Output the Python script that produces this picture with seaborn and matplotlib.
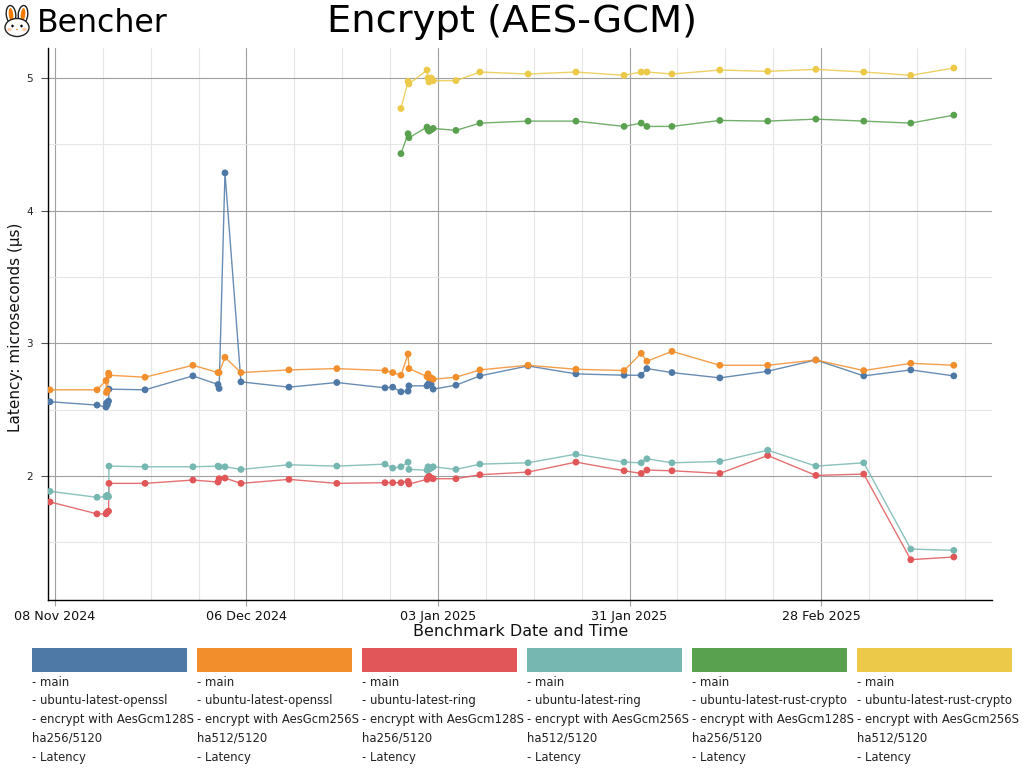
import pandas as pd
import matplotlib.pyplot as plt
import matplotlib.dates as mdates
from matplotlib.patches import Ellipse, Rectangle
import seaborn as sns

# === Data ===
dates = [
    "2024-11-07 06:30", "2024-11-14 03:30", "2024-11-15 11:00", "2024-11-15 12:30",
    "2024-11-15 16:00", "2024-11-15 20:00", "2024-11-15 21:30", "2024-11-21 04:00",
    "2024-11-28 04:00", "2024-12-01 20:00", "2024-12-02 00:00", "2024-12-02 20:30",
    "2024-12-05 04:30", "2024-12-12 05:00", "2024-12-19 05:00", "2024-12-26 06:00",
    "2024-12-27 09:00", "2024-12-28 14:00", "2024-12-29 15:00", "2024-12-29 18:00",
    "2025-01-01 09:30", "2025-01-01 13:00", "2025-01-01 16:30", "2025-01-02 00:00",
    "2025-01-02 07:00", "2025-01-05 15:00", "2025-01-09 03:00", "2025-01-16 04:00",
    "2025-01-23 04:00", "2025-01-30 05:00", "2025-02-01 17:00", "2025-02-02 13:00",
    "2025-02-06 05:00", "2025-02-13 05:00", "2025-02-20 05:00", "2025-02-27 06:00",
    "2025-03-06 06:00", "2025-03-13 03:00", "2025-03-19 10:00",
]
nan = float("nan")
openssl_128 = [2.56, 2.535, 2.52, 2.55, 2.54, 2.565, 2.655, 2.65, 2.755, 2.69, 2.66, 4.285,
               2.71, 2.67, 2.705, 2.665, 2.67, 2.635, 2.64, 2.68, 2.68, 2.69, 2.70, 2.69, 2.655,
               2.685, 2.755, 2.83, 2.77, 2.76, 2.76, 2.81, 2.78, 2.74, 2.79, 2.875, 2.755, 2.80, 2.755]
openssl_256 = [2.65, 2.65, 2.72, 2.63, 2.645, 2.775, 2.76, 2.745, 2.835, 2.78, 2.78, 2.895,
               2.78, 2.80, 2.81, 2.795, 2.78, 2.76, 2.92, 2.81, 2.75, 2.77, 2.74, 2.74, 2.73,
               2.745, 2.80, 2.835, 2.805, 2.795, 2.925, 2.865, 2.94, 2.835, 2.835, 2.875, 2.795, 2.85, 2.835]
ring_128 = [1.805, 1.715, 1.715, 1.72, 1.73, 1.735, 1.945, 1.945, 1.97, 1.955, 1.98, 1.985,
            1.945, 1.975, 1.945, 1.95, 1.95, 1.95, 1.96, 1.94, 1.975, 1.99, 2.0, 1.985, 1.98,
            1.98, 2.01, 2.03, 2.105, 2.04, 2.02, 2.045, 2.04, 2.02, 2.155, 2.005, 2.015, 1.37, 1.39]
ring_256 = [1.885, 1.84, 1.845, 1.85, 1.855, 1.845, 2.075, 2.07, 2.07, 2.075, 2.07, 2.07,
            2.05, 2.085, 2.075, 2.09, 2.06, 2.07, 2.105, 2.05, 2.045, 2.07, 2.05, 2.06, 2.07,
            2.05, 2.09, 2.10, 2.165, 2.105, 2.10, 2.13, 2.10, 2.11, 2.195, 2.075, 2.10, 1.45, 1.44]
rust_128 = [nan] * 17 + [4.43, 4.58, 4.55, 4.63, 4.61, 4.60, 4.61, 4.62,
                         4.605, 4.66, 4.675, 4.675, 4.635, 4.66, 4.635, 4.635, 4.68, 4.675, 4.69, 4.675, 4.66, 4.72]
rust_256 = [nan] * 17 + [4.77, 4.975, 4.955, 5.06, 5.0, 4.97, 5.0, 4.98,
                         4.98, 5.045, 5.03, 5.045, 5.02, 5.045, 5.045, 5.03, 5.06, 5.05, 5.065, 5.045, 5.02, 5.075]

series_values = [openssl_128, openssl_256, ring_128, ring_256, rust_128, rust_256]
colors = ["#4e79a7", "#f28e2c", "#e15759", "#76b7b2", "#59a14f", "#edc949"]
legend_labels = [
    "- main\n- ubuntu-latest-openssl\n- encrypt with AesGcm128S\nha256/5120\n- Latency",
    "- main\n- ubuntu-latest-openssl\n- encrypt with AesGcm256S\nha512/5120\n- Latency",
    "- main\n- ubuntu-latest-ring\n- encrypt with AesGcm128S\nha256/5120\n- Latency",
    "- main\n- ubuntu-latest-ring\n- encrypt with AesGcm256S\nha512/5120\n- Latency",
    "- main\n- ubuntu-latest-rust-crypto\n- encrypt with AesGcm128S\nha256/5120\n- Latency",
    "- main\n- ubuntu-latest-rust-crypto\n- encrypt with AesGcm256S\nha512/5120\n- Latency",
]

frames = []
for label, values in zip(legend_labels, series_values):
    frames.append(pd.DataFrame({"date": pd.to_datetime(dates), "latency": values, "series": label}))
df = pd.concat(frames).dropna()

# === Plot setup ===
sns.set_theme(style="white")
plt.rcParams["font.family"] = ["DejaVu Sans"]
W, H = 1024, 768
fig = plt.figure(figsize=(W / 100, H / 100), dpi=100)
ax = fig.add_axes([48 / W, 1 - 600 / H, (992 - 48) / W, (600 - 48) / H])

sns.lineplot(data=df, x="date", y="latency", hue="series", palette=colors, estimator=None,
             sort=False, linewidth=1, alpha=0.85, legend=False, ax=ax, zorder=3)
sns.scatterplot(data=df, x="date", y="latency", hue="series", palette=colors, s=24,
                linewidth=0, legend=False, ax=ax, zorder=4)

ax.set_xlim(pd.Timestamp("2024-11-06 23:30"), pd.Timestamp("2025-03-25 00:00"))
ax.set_ylim(1.066, 5.226)
major = pd.date_range("2024-11-08", "2025-03-25", freq="28D")
minor = pd.date_range("2024-11-08", "2025-03-25", freq="7D")
ax.set_xticks(major)
ax.set_xticks(minor, minor=True)
ax.xaxis.set_major_formatter(mdates.DateFormatter("%d %b %Y"))
ax.set_yticks([2, 3, 4, 5])
ax.set_yticks([1.5, 2.5, 3.5, 4.5], minor=True)
ax.grid(which="major", color="#a0a0a0", linewidth=0.8)
ax.grid(which="minor", color="#e6e6e6", linewidth=0.8)
ax.set_axisbelow(True)
ax.tick_params(axis="x", which="major", bottom=True, length=4, width=0.8, color="#a0a0a0",
               labelsize=9.2, labelcolor="#111111", pad=3)
ax.tick_params(axis="y", which="major", left=True, length=5, width=0.8, color="#555555",
               labelsize=7.5, labelcolor="#222222", pad=6)
ax.tick_params(which="minor", length=0)
sns.despine(ax=ax)
for side in ["left", "bottom"]:
    ax.spines[side].set_color("black")
    ax.spines[side].set_linewidth(1)

ax.set_xlabel("")
ax.set_ylabel("")
fig.text(16 / W, 1 - 327 / H, "Latency: microseconds (µs)", rotation=90, ha="center", va="center",
         fontsize=11, color="#111111")
fig.text(521 / W, 1 - 631 / H, "Benchmark Date and Time", ha="center", va="center",
         fontsize=11.5, color="#111111")
fig.text(512 / W, 1 - 22 / H, "Encrypt (AES-GCM)", ha="center", va="center", fontsize=27.7, color="black")
fig.text(37 / W, 1 - 23 / H, "Bencher", ha="left", va="center", fontsize=22.7, color="black")

# === Legend swatches and wrapped labels ===
for i, (label, color) in enumerate(zip(legend_labels, colors)):
    left = 32 + i * 165
    fig.add_artist(Rectangle((left / W, 1 - 672 / H), 155 / W, 24 / H, color=color,
                             transform=fig.transFigure, linewidth=0))
    for j, line in enumerate(label.split("\n")):
        fig.text(left / W, 1 - (682 + j * 18.75) / H, line, ha="left", va="center",
                 fontsize=8.4, color="#222222")

# === Rabbit logo ===
logo = fig.add_axes([0, 1 - 40 / H, 40 / W, 40 / H])
logo.set_xlim(0, 40)
logo.set_ylim(40, 0)
logo.axis("off")
for cx, tilt in [(11, -6), (23, 6)]:
    logo.add_patch(Ellipse((cx, 14.5), 9.5, 18, angle=tilt, fc="white", ec="#222222", lw=1))
    logo.add_patch(Ellipse((cx, 14.5), 4.5, 13, angle=tilt, fc="#f57c00", ec="none"))
logo.add_patch(Ellipse((17, 27.5), 24, 18, fc="white", ec="#222222", lw=1))
logo.add_patch(Ellipse((9.5, 29.5), 4.5, 3.5, fc="#ffc9a8", ec="none"))
logo.add_patch(Ellipse((24.5, 29.5), 4.5, 3.5, fc="#ffc9a8", ec="none"))
logo.add_patch(Ellipse((12.5, 26), 2.4, 2.8, fc="black", ec="none"))
logo.add_patch(Ellipse((21.5, 26), 2.4, 2.8, fc="black", ec="none"))
logo.add_patch(Ellipse((17, 29.5), 1.8, 1.2, fc="#f57c00", ec="none"))

fig.savefig("out.png", dpi=100)
plt.close()
